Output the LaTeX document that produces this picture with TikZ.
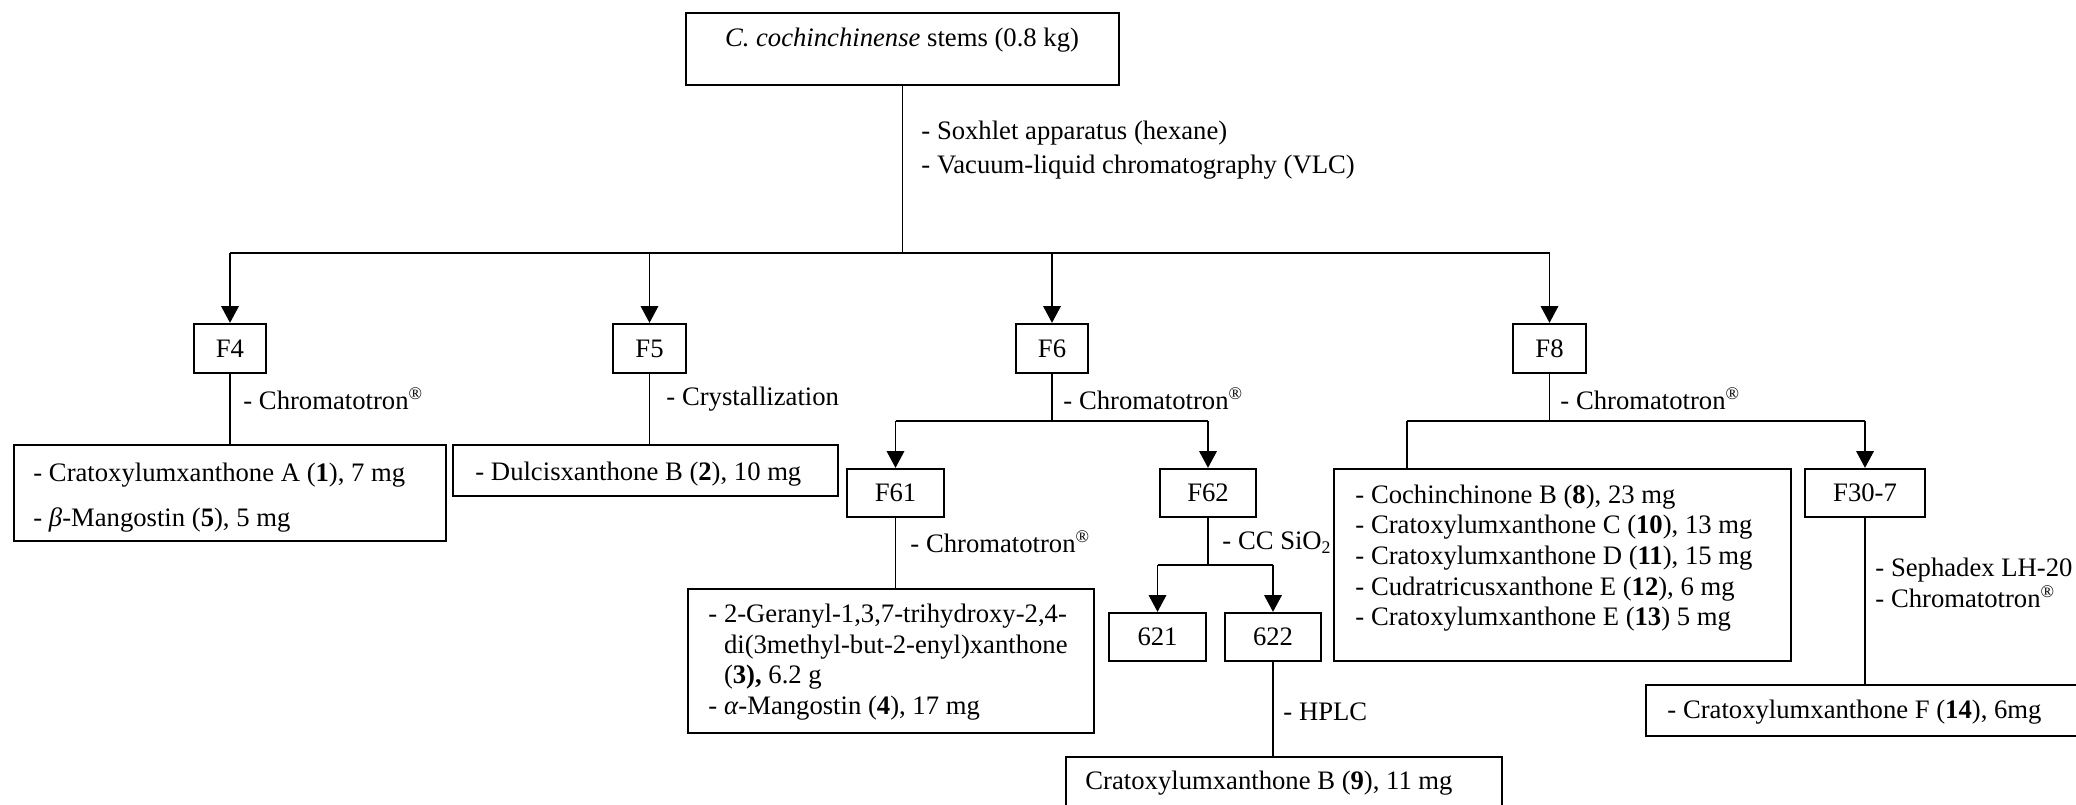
\documentclass[tikz,border=0pt]{standalone}
\usepackage{fontspec}
\setmainfont{Liberation Serif}
\usetikzlibrary{arrows.meta,fit}
\newcommand{\regd}{\textsuperscript{®}}
\begin{document}
\begin{tikzpicture}[x=0.45pt,y=-0.45pt,
  box/.style={draw, line width=1pt, inner sep=0pt},
  txt/.style={inner sep=0pt, anchor=west, align=left, font=\fontsize{12}{13.8}\selectfont},
  conn/.style={line width=0.85pt},
  arr/.style={conn, -{Triangle[length=7.5pt,width=7.8pt]}}]
\useasboundingbox (0,0) rectangle (2076,805);
\clip (0,0) rectangle (2076,805);
% top
\node[box, fit={(686,13)(1119,85)}] (top) {};
\node[txt, anchor=center] (toptxt) at (902,40) {\textit{C. cochinchinense} stems (0.8 kg)};
\node[txt, font=\fontsize{12}{15.5}\selectfont] (soxlbl) at (921,150) {- Soxhlet apparatus (hexane)\\- Vacuum-liquid chromatography (VLC)};
% fractions
\node[box, fit={(194,324)(266,373)}] (f4) {};
\node[txt, anchor=center] (f4t) at (f4.center) {F4};
\node[box, fit={(613,324)(686,373)}] (f5) {};
\node[txt, anchor=center] (f5t) at (f5.center) {F5};
\node[box, fit={(1016,324)(1088,373)}] (f6) {};
\node[txt, anchor=center] (f6t) at (f6.center) {F6};
\node[box, fit={(1513,324)(1586,373)}] (f8) {};
\node[txt, anchor=center] (f8t) at (f8.center) {F8};
\coordinate (br) at (top.south |- 0,253);
\draw[conn] (top.south) -- (br);
\draw[conn] (f4.north |- br) -- (f8.north |- br);
\draw[arr] (f4.north |- br) -- (f4.north);
\draw[arr] (f5.north |- br) -- (f5.north);
\draw[arr] (f6.north |- br) -- (f6.north);
\draw[arr] (f8.north |- br) -- (f8.north);
% F4
\node[box, fit={(14,445)(446,541)}] (res4) {};
\node[txt] (res4a) at (33,475) {- Cratoxylumxanthone A (\textbf{1}), 7 mg};
\node[txt] (res4b) at (33,520) {- \textit{β}-Mangostin (\textbf{5}), 5 mg};
\draw[conn] (f4.south) -- (f4.south |- res4.north);
\node[txt] (f4lbl) at (243,399) {- Chromatotron\regd};
% F5
\node[box, fit={(453,445)(838,496)}] (res5) {};
\node[txt] (res5a) at (475,474) {- Dulcisxanthone B (\textbf{2}), 10 mg};
\draw[conn] (f5.south) -- (f5.south |- res5.north);
\node[txt] (f5lbl) at (666,399) {- Crystallization};
% F6
\node[txt] (f6lbl) at (1063,399) {- Chromatotron\regd};
\node[box, fit={(847,469)(944,517)}] (f61) {};
\node[txt, anchor=center] (f61t) at (f61.center) {F61};
\node[box, fit={(1160,469)(1256,517)}] (f62) {};
\node[txt, anchor=center] (f62t) at (f62.center) {F62};
\coordinate (b6) at (f6.south |- 0,421);
\draw[conn] (f6.south) -- (b6);
\draw[conn] (f61.north |- b6) -- (f62.north |- b6);
\draw[arr] (f61.north |- b6) -- (f61.north);
\draw[arr] (f62.north |- b6) -- (f62.north);
% F61
\node[txt] (f61lbl) at (910,542) {- Chromatotron\regd};
\node[box, fit={(688,589)(1094,733)}] (res61) {};
\node[txt] (res61a) at (708,662) {- 2-Geranyl-1,3,7-trihydroxy-2,4-\\\hphantom{-\ }di(3methyl-but-2-enyl)xanthone\\\hphantom{-\ }(\textbf{3),} 6.2 g\\- \textit{α}-Mangostin (\textbf{4}), 17 mg};
\draw[conn] (f61.south) -- (f61.south |- res61.north);
% F62
\node[txt] (f62lbl) at (1222,543) {- CC SiO\textsubscript{2}};
\node[box, fit={(1109,613)(1206,661)}] (n621) {};
\node[txt, anchor=center] (n621t) at (n621.center) {621};
\node[box, fit={(1225,613)(1321,661)}] (n622) {};
\node[txt, anchor=center] (n622t) at (n622.center) {622};
\coordinate (b62) at (f62.south |- 0,565);
\draw[conn] (f62.south) -- (b62);
\draw[conn] (n621.north |- b62) -- (n622.north |- b62);
\draw[arr] (n621.north |- b62) -- (n621.north);
\draw[arr] (n622.north |- b62) -- (n622.north);
% 622
\node[box, fit={(1066,757)(1502,812)}] (res9) {};
\node[txt] (res9a) at (1085,783) {Cratoxylumxanthone B (\textbf{9}), 11 mg};
\draw[conn] (n622.south) -- (n622.south |- res9.north);
\node[txt] (hplc) at (1283,712) {- HPLC};
% F8
\node[txt] (f8lbl) at (1560,399) {- Chromatotron\regd};
\node[box, fit={(1334,469)(1791,661)}] (res8) {};
\node[txt] (res8a) at (1355,558) {- Cochinchinone B (\textbf{8}), 23 mg\\- Cratoxylumxanthone C (\textbf{10}), 13 mg\\- Cratoxylumxanthone D (\textbf{11}), 15 mg\\- Cudratricusxanthone E (\textbf{12}), 6 mg\\- Cratoxylumxanthone E (\textbf{13}) 5 mg};
\node[box, fit={(1805,469)(1925,517)}] (f307) {};
\node[txt, anchor=center] (f307t) at (f307.center) {F30-7};
\coordinate (b8) at (f8.south |- 0,421);
\coordinate (b8l) at (1407,421);
\draw[conn] (f8.south) -- (b8);
\draw[conn] (b8l) -- (f307.north |- b8);
\draw[conn] (b8l) -- (b8l |- res8.north);
\draw[arr] (f307.north |- b8) -- (f307.north);
% F30-7
\node[box, fit={(1646,685)(2078,736)}] (res14) {};
\node[txt] (res14a) at (1667,712) {- Cratoxylumxanthone F (\textbf{14}), 6mg};
\draw[conn] (f307.south) -- (f307.south |- res14.north);
\node[txt] (f307lbl) at (1875,583) {- Sephadex LH-20\\- Chromatotron\regd};
\end{tikzpicture}
\end{document}
